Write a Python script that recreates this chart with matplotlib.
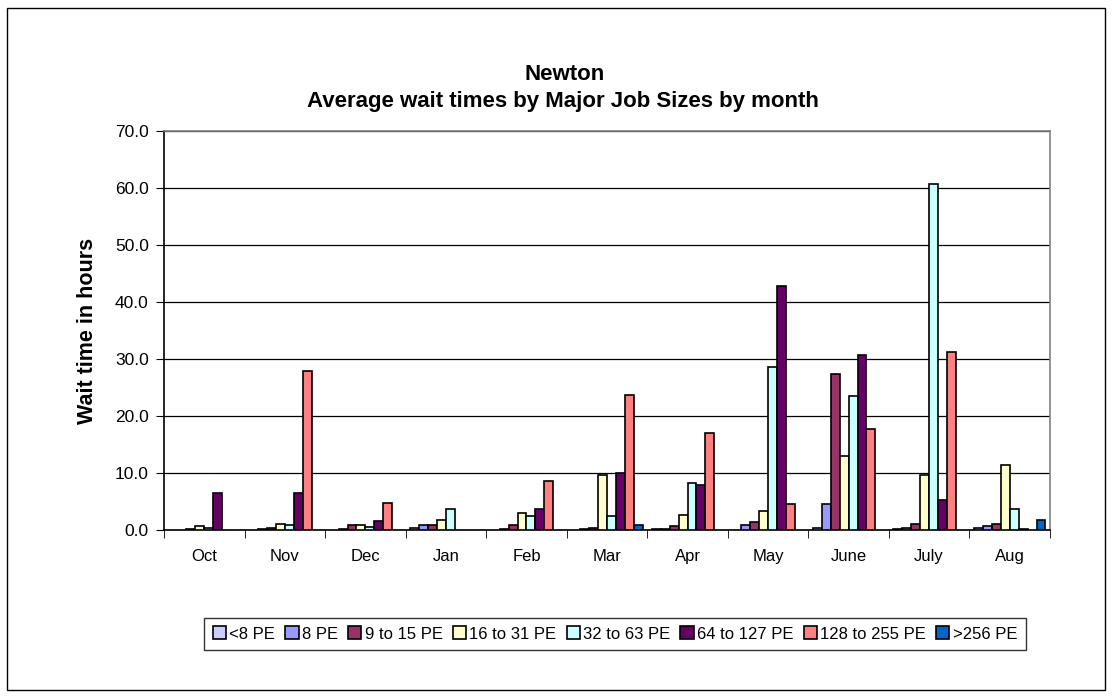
import numpy as np
import matplotlib.pyplot as plt
from matplotlib.patches import Rectangle

plt.rcParams['font.family'] = ['Liberation Sans', 'DejaVu Sans']

months = ["Oct", "Nov", "Dec", "Jan", "Feb", "Mar", "Apr", "May", "June", "July", "Aug"]
series_names = ["<8 PE", "8 PE", "9 to 15 PE", "16 to 31 PE", "32 to 63 PE",
                "64 to 127 PE", "128 to 255 PE", ">256 PE"]

lt8 = [0, 0, 0, 0.45, 0, 0, 0.2, 0, 0.4, 0.2, 0.4]
pe8 = [0, 0.2, 0.3, 0.9, 0.3, 0.3, 0.3, 0.9, 4.6, 0.4, 0.7]
pe9_15 = [0.3, 0.5, 0.9, 0.9, 0.9, 0.5, 0.7, 1.5, 27.4, 1.2, 1.2]
pe16_31 = [0.7, 1.2, 0.9, 1.9, 3.1, 9.8, 2.8, 3.5, 13.1, 9.8, 11.4]
pe32_63 = [0.5, 0.9, 0.6, 3.8, 2.6, 2.6, 8.3, 28.6, 23.5, 60.8, 3.8]
pe64_127 = [6.6, 6.6, 1.7, 0, 3.7, 10.1, 8.0, 42.9, 30.8, 5.4, 0.2]
pe128_255 = [0, 28.0, 4.9, 0, 8.6, 23.8, 17.1, 4.6, 17.8, 31.3, 0]
pe256 = [0, 0, 0, 0, 0, 0.9, 0, 0, 0, 0, 1.9]

colors = ["#CCCCFF", "#9999FF", "#993366", "#FFFFCC", "#CCFFFF",
          "#660066", "#FF8080", "#0066CC"]

all_series = [lt8, pe8, pe9_15, pe16_31, pe32_63, pe64_127, pe128_255, pe256]

fig = plt.figure(figsize=(11.19, 6.98), dpi=100)
ax = fig.add_axes([0.1466, 0.2400, 0.7917, 0.5723])

x = np.arange(len(months))
w = 0.111
for k, (vals, name, col) in enumerate(zip(all_series, series_names, colors)):
    v = np.array(vals, dtype=float)
    hv = np.where(v > 0, v, np.nan)
    ax.bar(x + (k - 3.5) * w, hv, width=w, color=col, edgecolor="black",
           linewidth=1.2, label=name, zorder=3)

ax.set_xlim(-0.5, len(months) - 0.5)
ax.set_ylim(0, 70)
ax.set_yticks(np.arange(0, 71, 10))
ax.set_yticklabels([f"{t:.1f}" for t in np.arange(0, 71, 10)], fontsize=12.5)
ax.yaxis.grid(True, color="black", linewidth=0.9, zorder=0)
ax.set_axisbelow(True)

ax.set_xticks(x)
ax.set_xticklabels(months, fontsize=12)
ax.tick_params(axis="x", which="major", length=0, pad=13)
ax.set_xticks(np.arange(-0.5, len(months), 1), minor=True)
ax.tick_params(axis="x", which="minor", length=6, direction="out", color="black")
ax.tick_params(axis="y", length=6, direction="out", pad=5)

for side in ["top", "right"]:
    ax.spines[side].set_color("#808080")
    ax.spines[side].set_linewidth(1.2)
for side in ["left", "bottom"]:
    ax.spines[side].set_color("black")
    ax.spines[side].set_linewidth(1.2)

ax.set_ylabel("Wait time in hours", fontsize=15.5, fontweight="bold", labelpad=12)

fig.text(0.505, 1 - 74 / 698, "Newton", ha="center", va="center",
         fontsize=16, fontweight="bold")
fig.text(0.503, 1 - 101 / 698, "Average wait times by Major Job Sizes by month",
         ha="center", va="center", fontsize=16, fontweight="bold")

leg = fig.legend(loc="center", bbox_to_anchor=(615 / 1119, 1 - 634 / 698), ncol=8,
                 fontsize=12, frameon=True, fancybox=False, edgecolor="black",
                 handlelength=0.8, handleheight=0.8, handletextpad=0.2,
                 columnspacing=0.6, borderpad=0.5)
leg.get_frame().set_linewidth(1.0)

fig.patches.append(Rectangle((7 / 1119, 1 - 690 / 698), 1098 / 1119, 682 / 698,
                             transform=fig.transFigure, fill=False,
                             edgecolor="black", linewidth=1.0))

fig.savefig("out.png", dpi=100)
